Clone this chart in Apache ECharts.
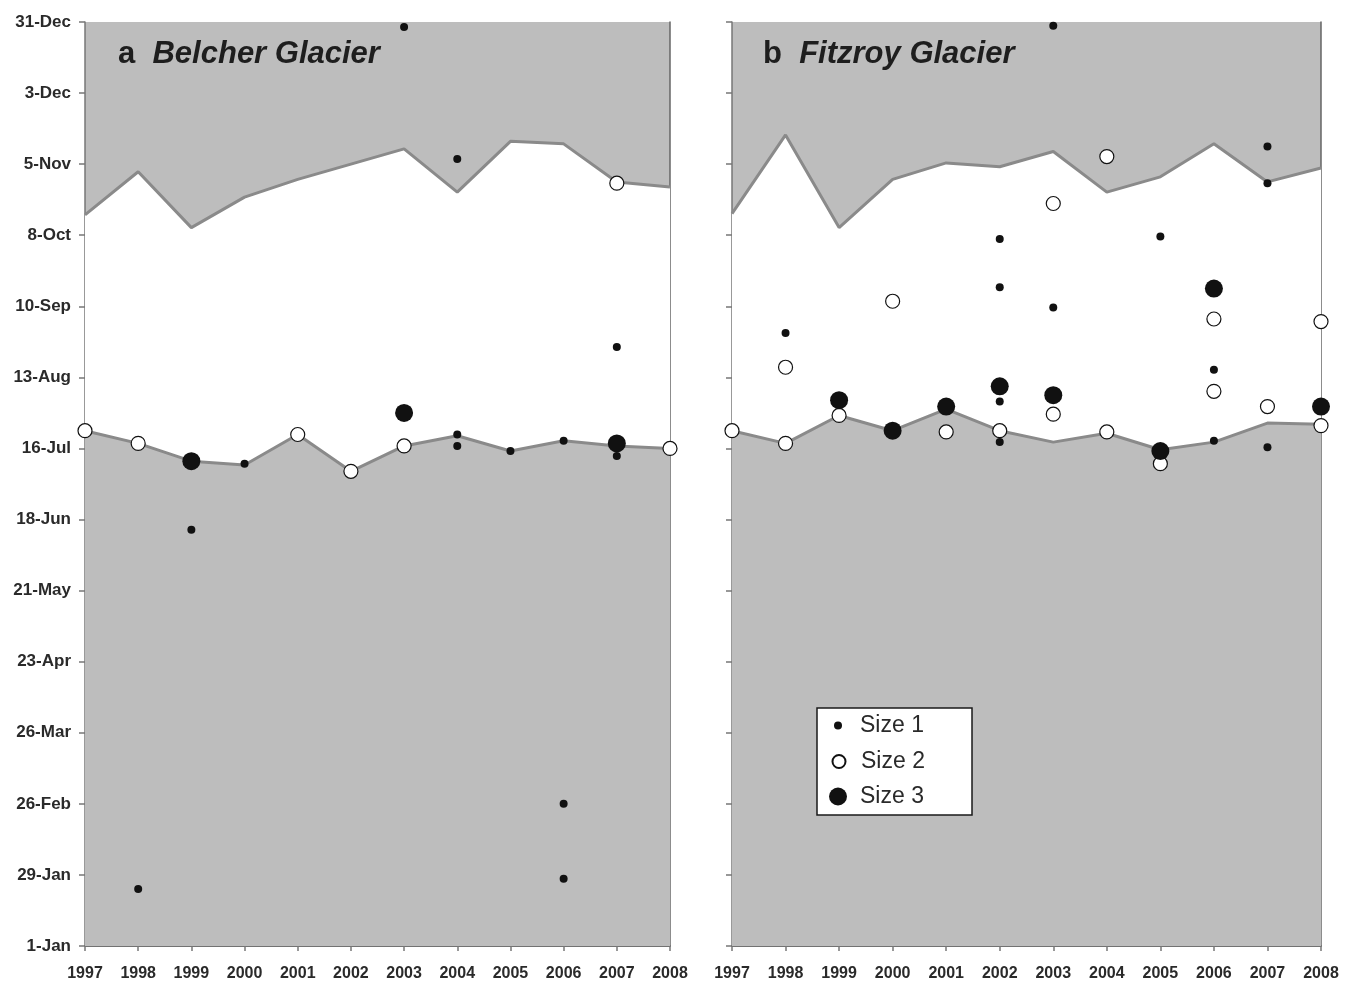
<!DOCTYPE html>
<html>
<head>
<meta charset="utf-8">
<script src="https://cdn.jsdelivr.net/npm/echarts@6/dist/echarts.min.js"></script>
<style>
  html, body { margin: 0; padding: 0; background: #ffffff; }
  #chart { width: 1357px; height: 985px; }
</style>
</head>
<body>
<div id="chart"></div>
<script>
// ---------- data (y values are days after 1-Jan) ----------
const years = [1997, 1998, 1999, 2000, 2001, 2002, 2003, 2004, 2005, 2006, 2007, 2008];
const yTickLabels = ['1-Jan', '29-Jan', '26-Feb', '26-Mar', '23-Apr', '21-May', '18-Jun',
                     '16-Jul', '13-Aug', '10-Sep', '8-Oct', '5-Nov', '3-Dec', '31-Dec'];

// a  Belcher Glacier
const belcherUpper = [288, 305, 283, 295, 302, 308, 314, 297, 317, 316, 301, 299];
const belcherLower = [203, 198, 191, 189.5, 201.5, 187, 197, 201, 195, 199, 197, 196];
const belcherSize1 = [[2003, 362], [2004, 310], [2007, 236], [2004, 201.5], [2004, 197],
                      [2000, 190], [2005, 195], [2006, 199], [2007, 193], [1999, 164],
                      [1998, 22.5], [2006, 56], [2006, 26.5]];
const belcherSize2 = [[1997, 203], [1998, 198], [2001, 201.5], [2002, 187], [2003, 197],
                      [2007, 300.5], [2008, 196]];
const belcherSize3 = [[1999, 191], [2003, 210], [2007, 198]];

// b  Fitzroy Glacier
const fitzroyUpper = [288.5, 319.5, 283, 302, 308.5, 307, 313, 297, 303, 316, 301, 306.5];
const fitzroyLower = [203, 198, 209, 203, 211.5, 203, 198.5, 202, 195.5, 198.5, 206, 205.5];
const fitzroySize1 = [[2003, 362.5], [2007, 315], [2007, 300.5], [2002, 278.5], [2005, 279.5],
                      [2002, 259.5], [2003, 251.5], [1998, 241.5], [2006, 227], [2002, 214.5],
                      [2002, 198.5], [2006, 199], [2007, 196.5]];
const fitzroySize2 = [[2004, 311], [2003, 292.5], [2000, 254], [2006, 247], [2008, 246],
                      [1998, 228], [2006, 218.5], [2007, 212.5], [1999, 209], [2003, 209.5],
                      [1997, 203], [2001, 202.5], [2002, 203], [2004, 202.5], [2008, 205],
                      [1998, 198], [2005, 190]];
const fitzroySize3 = [[1999, 215], [2000, 203], [2001, 212.5], [2002, 220.5], [2003, 217],
                      [2005, 195], [2006, 259], [2008, 212.5]];

const sizeNames = ['Size 1', 'Size 2', 'Size 3'];

// ---------- styles ----------
const FONT = 'Liberation Sans, Arial, sans-serif';
const GREY = '#bdbdbd';
const LINE_GREY = '#8a8a8a';
const AXIS_COL = '#777777';
const symSizes = [8, 14, 18];
const legendSizes = [8, 13, 18];
const symStyles = [
  { color: '#111111', borderWidth: 0 },
  { color: '#ffffff', borderColor: '#111111', borderWidth: 1.2 },
  { color: '#111111', borderWidth: 0 }
];

const grids = [
  { left: 85, top: 22, width: 585, height: 924, show: true, backgroundColor: GREY, borderWidth: 0 },
  { left: 732, top: 22, width: 589, height: 924, show: true, backgroundColor: GREY, borderWidth: 0 }
];

const xAxes = [];
const yAxes = [];
[0, 1].forEach(g => {
  xAxes.push({
    type: 'value', gridIndex: g, min: 1997, max: 2008, interval: 1, position: 'bottom',
    axisLine: { show: true, lineStyle: { color: AXIS_COL, width: 1.5 } },
    axisTick: { show: true, length: 5, lineStyle: { color: AXIS_COL, width: 1.5 } },
    axisLabel: { show: true, margin: 20, color: '#2a2a2a', fontSize: 16, fontWeight: 'bold',
                 fontFamily: FONT, formatter: v => String(v) },
    splitLine: { show: false }
  });
  xAxes.push({
    type: 'value', gridIndex: g, min: 1997, max: 2008, interval: 1, position: 'top',
    axisLine: { show: true, lineStyle: { color: '#666666', width: 1.5 } },
    axisTick: { show: false }, axisLabel: { show: false }, splitLine: { show: false }
  });
  yAxes.push({
    type: 'value', gridIndex: g, min: 0, max: 364, interval: 28, position: 'left',
    axisLine: { show: true, lineStyle: { color: AXIS_COL, width: 1.5 } },
    axisTick: { show: true, length: 6, lineStyle: { color: AXIS_COL, width: 1.5 } },
    axisLabel: { show: g === 0, margin: 14, color: '#2a2a2a', fontSize: 17, fontWeight: 'bold',
                 fontFamily: FONT, formatter: v => yTickLabels[Math.round(v / 28)] },
    splitLine: { show: false }
  });
  yAxes.push({
    type: 'value', gridIndex: g, min: 0, max: 364, interval: 28, position: 'right',
    axisLine: { show: true, lineStyle: { color: '#666666', width: 1.5 } },
    axisTick: { show: false }, axisLabel: { show: false }, splitLine: { show: false }
  });
});

function panelSeries(g, upper, lower, sizes) {
  const xi = g * 2, yi = g * 2;
  const out = [];
  out.push({
    type: 'line', xAxisIndex: xi, yAxisIndex: yi, silent: true, z: 2,
    data: years.map((y, i) => [y, upper[i]]),
    showSymbol: false, symbol: 'none',
    lineStyle: { color: LINE_GREY, width: 3 },
    areaStyle: { color: '#ffffff', opacity: 1, origin: 'start' }
  });
  out.push({
    type: 'line', xAxisIndex: xi, yAxisIndex: yi, silent: true, z: 3,
    data: years.map((y, i) => [y, lower[i]]),
    showSymbol: false, symbol: 'none',
    lineStyle: { color: LINE_GREY, width: 3 },
    areaStyle: { color: GREY, opacity: 1, origin: 'start' }
  });
  sizes.forEach((pts, k) => {
    out.push({
      type: 'scatter', name: sizeNames[k], xAxisIndex: xi, yAxisIndex: yi, z: 5 + k,
      clip: false, symbol: 'circle', symbolSize: symSizes[k],
      itemStyle: Object.assign({ opacity: 1 }, symStyles[k]),
      data: pts
    });
  });
  return out;
}

const series = [].concat(
  panelSeries(0, belcherUpper, belcherLower, [belcherSize1, belcherSize2, belcherSize3]),
  panelSeries(1, fitzroyUpper, fitzroyLower, [fitzroySize1, fitzroySize2, fitzroySize3])
);

// legend (one per entry so each icon keeps its own size)
const legendCenterX = 838;
const legendRowsY = [725, 761, 796];
const legendTextX = 860;
const legends = sizeNames.map((nm, k) => {
  const s = legendSizes[k];
  return {
    data: [nm], orient: 'vertical', selectedMode: false, z: 200,
    left: legendCenterX - s / 2, top: legendRowsY[k] - 11,
    padding: 0, itemWidth: s, itemHeight: s, icon: 'circle',
    textStyle: { fontSize: 23, color: '#2a2a2a', fontFamily: FONT,
                 padding: [0, 0, 0, legendTextX - (legendCenterX + s / 2 + 5)] }
  };
});

const titleRich = {
  a: { fontSize: 31, fontWeight: 'bold', fontStyle: 'normal', color: '#1e1e1e', fontFamily: FONT },
  b: { fontSize: 31, fontWeight: 'bold', fontStyle: 'italic', color: '#1e1e1e', fontFamily: FONT }
};

const option = {
  animation: false,
  backgroundColor: '#ffffff',
  title: [
    { text: '{a|a  }{b|Belcher Glacier}', left: 118, top: 39, padding: 0,
      textStyle: { rich: titleRich } },
    { text: '{a|b  }{b|Fitzroy Glacier}', left: 763, top: 39, padding: 0,
      textStyle: { rich: titleRich } }
  ],
  grid: grids,
  xAxis: xAxes,
  yAxis: yAxes,
  legend: legends,
  graphic: [{
    type: 'rect', z: 150, silent: true,
    shape: { x: 817, y: 708, width: 155, height: 107 },
    style: { fill: '#ffffff', stroke: '#1a1a1a', lineWidth: 1.5 }
  }],
  series: series
};

const chart = echarts.init(document.getElementById('chart'), null, { renderer: 'canvas' });
chart.setOption(option);
</script>
</body>
</html>
